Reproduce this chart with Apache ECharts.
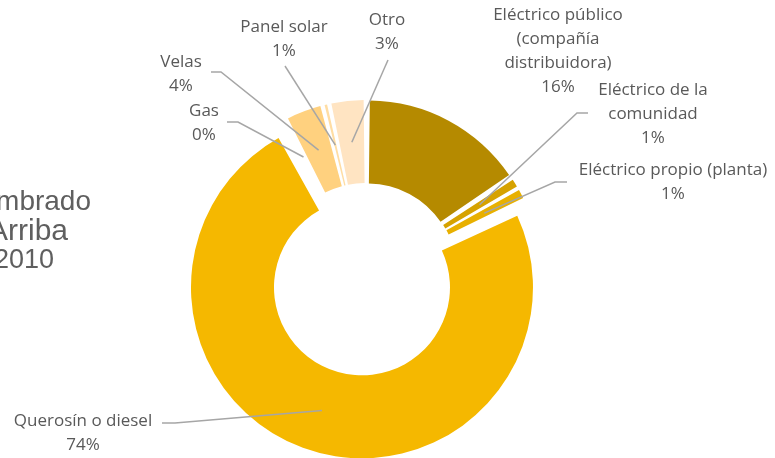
<!DOCTYPE html>
<html><head><meta charset="utf-8">
<script src="https://cdn.jsdelivr.net/npm/echarts@6/dist/echarts.min.js"></script>
<style>html,body{margin:0;padding:0;background:#fff}#c{width:775px;height:458px}</style>
</head><body><div id="c"></div>
<script>
// ---- data ----
const categories = ['Eléctrico público (compañía distribuidora)', 'Eléctrico de la comunidad', 'Eléctrico propio (planta)', 'Querosín o diesel', 'Gas', 'Velas', 'Panel solar', 'Otro'];
const labelNames = ['Eléctrico público\n(compañía\ndistribuidora)', 'Eléctrico de la\ncomunidad', 'Eléctrico propio (planta)', 'Querosín o diesel', 'Gas', 'Velas', 'Panel solar', 'Otro'];
const values = [15.7, 1.1, 1.2, 74.4, 0, 3.6, 0.6, 3.4];
const titleLines = ['Tipo de alumbrado', 'Zona Arriba', 'Año 2010'];

// ---- style / layout ----
const colors = ['#B58A00', '#D6A200', '#E8B000', '#F5B800', '#FFC933', '#FFD17F', '#FFDDA3', '#FFE4C2'];
const bigIndex = 3;
const CENTER = [366, 275], RADIUS = [88, 171], PAD = 1.3;
const OFFSET_BIG = 13, OFFSET_REST = 4;
const labelPos = [
  {x: 558, y: 51.5},
  {x: 653, y: 114, s: [588, 113], e: [577, 113]},
  {x: 673, y: 182.5, s: [567, 182], e: [555, 182]},
  {x: 83, y: 433, s: [162, 423], e: [175, 423]},
  {x: 204, y: 123, s: [227, 122], e: [238, 122]},
  {x: 181, y: 74, s: [211, 72], e: [221, 72]},
  {x: 284, y: 39, s: [285, 66]},
  {x: 387, y: 32, s: [388, 60]}
];
const titleStyle = [
  {x: 91, y: 202, size: 28},
  {x: 68, y: 232, size: 30},
  {x: 54, y: 261, size: 27}
];

const chart = echarts.init(document.getElementById('c'), null, {renderer: 'canvas'});
const common = {
  type: 'pie', center: CENTER, radius: RADIUS, startAngle: 90, clockwise: true,
  padAngle: PAD, selectedMode: 'multiple', silent: true, animation: false,
  avoidLabelOverlap: false, label: {show: false}, labelLine: {show: false},
  emphasis: {disabled: true}
};
function mkData(showBig) {
  return values.map((v, i) => {
    const visible = showBig ? i === bigIndex : i !== bigIndex;
    return {
      name: categories[i], value: v, selected: visible,
      itemStyle: {color: visible ? colors[i] : 'rgba(0,0,0,0)', borderWidth: 0},
      select: {itemStyle: {color: visible ? colors[i] : 'rgba(0,0,0,0)', borderWidth: 0}}
    };
  });
}
chart.setOption({
  backgroundColor: '#fff',
  series: [
    Object.assign({}, common, {selectedOffset: OFFSET_BIG, data: mkData(true)}),
    Object.assign({}, common, {selectedOffset: OFFSET_REST, data: mkData(false)})
  ]
});

const total = values.reduce((a, b) => a + b, 0);
function layoutOf(i) {
  const si = i === bigIndex ? 0 : 1;
  try {
    const l = chart.getModel().getSeriesByIndex(si).getData().getItemLayout(i);
    if (l) return l;
  } catch (e) {}
  return null;
}
const graphics = [];
titleLines.forEach((t, k) => {
  const ts = titleStyle[k];
  graphics.push({type: 'text', x: ts.x, y: ts.y, z: 50,
    style: {text: t, align: 'right', verticalAlign: 'middle', fill: '#5f5f5f',
      font: ts.size + 'px "Liberation Sans", Arial, sans-serif'}});
});
values.forEach((v, i) => {
  const p = labelPos[i];
  const pct = Math.round(v / total * 100);
  graphics.push({type: 'text', x: p.x, y: p.y, z: 60,
    style: {text: labelNames[i] + '\n' + pct + '%', align: 'center', verticalAlign: 'middle',
      fill: '#595959', font: '17px "Open Sans", sans-serif', lineHeight: 24}});
  if (p.s) {
    const l = layoutOf(i);
    if (!l) return;
    const mid = (l.startAngle + l.endAngle) / 2;
    const off = i === bigIndex ? OFFSET_BIG : OFFSET_REST;
    const rm = (l.r + l.r0) / 2;
    const ex = l.cx + (off + rm) * Math.cos(mid);
    const ey = l.cy + (off + rm) * Math.sin(mid);
    const pts = [p.s];
    if (p.e) pts.push(p.e);
    pts.push([ex, ey]);
    graphics.push({type: 'polyline', z: 55, shape: {points: pts},
      style: {stroke: '#A6A6A6', lineWidth: 1.5, fill: null}});
  }
});
chart.setOption({graphic: graphics});
</script>
</body></html>
